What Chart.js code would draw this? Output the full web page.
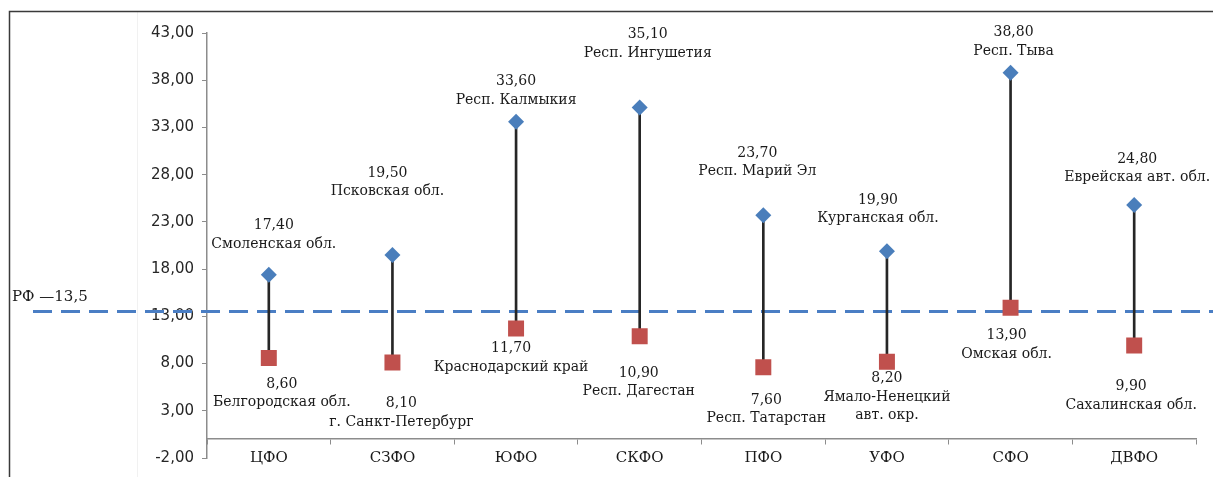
<!DOCTYPE html>
<html>
<head>
<meta charset="utf-8">
<script src="https://cdn.jsdelivr.net/npm/chart.js@4"></script>
<style>
html,body{margin:0;padding:0;background:#fff;}
#wrap{width:1213px;height:477px;position:relative;}
</style>
</head>
<body>
<div id="wrap"><canvas id="chart"></canvas></div>
<script>
const categories = ["ЦФО","СЗФО","ЮФО","СКФО","ПФО","УФО","СФО","ДВФО"];
const maxValues = [17.4,19.5,33.6,35.1,23.7,19.9,38.8,24.8];
const minValues = [8.6,8.1,11.7,10.9,7.6,8.2,13.9,9.9];
const maxRegions = ["Смоленская обл.","Псковская обл.","Респ. Калмыкия","Респ. Ингушетия","Респ. Марий Эл","Курганская обл.","Респ. Тыва","Еврейская авт. обл."];
const minRegions = ["Белгородская обл.","г. Санкт-Петербург","Краснодарский край","Респ. Дагестан","Респ. Татарстан","Ямало-Ненецкий\nавт. окр.","Омская обл.","Сахалинская обл."];
const rfValue = 13.5;
const rfLabel = "РФ —13,5";
const yMin = -2, yMax = 43, yStep = 5;

// label offsets (px) from marker centre: [dx, dy of the value line]
const maxOffsets = [[5,-49],[-5,-82],[0,-40],[8,-73],[-6,-62],[-9,-51],[3,-40],[3,-46]];
const minOffsets = [[13,26],[9,41],[-5,20],[-1,37],[3,33],[0,17],[-4,28],[-3,41]];

const fmt = v => v.toFixed(2).replace(".", ",");
const serif = "'DejaVu Serif', 'Liberation Serif', serif";

const extras = {
  id: "extras",
  beforeDraw(chart){
    const c = chart.ctx;
    c.save();
    c.strokeStyle = "#f1f1f1";
    c.lineWidth = 1;
    c.beginPath(); c.moveTo(137.5, 12); c.lineTo(137.5, 477); c.stroke();
    c.strokeStyle = "#3a3a3a";
    c.lineWidth = 1.5;
    c.beginPath();
    c.moveTo(9.5, 477); c.lineTo(9.5, 11.5); c.lineTo(1213, 11.5);
    c.stroke();
    c.restore();
  },
  beforeDatasetsDraw(chart){
    const c = chart.ctx;
    const y = chart.scales.y.getPixelForValue(rfValue);
    c.save();
    c.strokeStyle = "#4a7ec4";
    c.lineWidth = 3;
    c.setLineDash([19, 9]);
    c.beginPath(); c.moveTo(33, y); c.lineTo(1213, y); c.stroke();
    c.setLineDash([]);
    c.fillStyle = "#1a1a1a";
    c.font = "15px " + serif;
    c.textAlign = "left";
    c.textBaseline = "middle";
    c.fillText(rfLabel, 12, y - 15);
    c.restore();
  },
  afterDatasetsDraw(chart){
    const c = chart.ctx;
    const maxPts = chart.getDatasetMeta(1).data;
    const minPts = chart.getDatasetMeta(2).data;
    c.save();
    c.fillStyle = "#1a1a1a";
    c.font = "14px " + serif;
    c.textAlign = "center";
    c.textBaseline = "middle";
    const put = (pt, off, value, name) => {
      const x = pt.x + off[0];
      let y = pt.y + off[1];
      c.fillText(fmt(value), x, y);
      name.split("\n").forEach(line => { y += 18.5; c.fillText(line, x, y); });
    };
    categories.forEach((cat, i) => {
      put(maxPts[i], maxOffsets[i], maxValues[i], maxRegions[i]);
      put(minPts[i], minOffsets[i], minValues[i], minRegions[i]);
    });
    c.restore();
  }
};

new Chart(document.getElementById("chart"), {
  type: "bar",
  data: {
    labels: categories,
    datasets: [
      {
        type: "bar",
        data: categories.map((c, i) => [minValues[i], maxValues[i]]),
        backgroundColor: "#262626",
        barThickness: 2,
        order: 3
      },
      {
        type: "line",
        data: maxValues,
        showLine: false,
        pointStyle: "rectRot",
        pointRadius: 8,
        pointBorderWidth: 0,
        pointBackgroundColor: "#4a7ebb",
        borderColor: "#4a7ebb",
        order: 1
      },
      {
        type: "line",
        data: minValues,
        showLine: false,
        pointStyle: "rect",
        pointRadius: 11.3,
        pointBorderWidth: 0,
        pointBackgroundColor: "#c0504d",
        borderColor: "#c0504d",
        order: 2
      }
    ]
  },
  options: {
    responsive: true,
    maintainAspectRatio: false,
    animation: false,
    layout: {padding: {left: 0, right: 17, top: 33, bottom: 19}},
    plugins: {legend: {display: false}, tooltip: {enabled: false}},
    scales: {
      x: {
        position: {y: 0},
        offset: true,
        afterFit(s){ s.height = 0; },
        grid: {offset: true, drawOnChartArea: false, drawTicks: true, tickLength: 5, color: "#8c8c8c"},
        border: {display: true, color: "#8c8c8c", width: 1.5},
        ticks: {font: {family: serif, size: 15}, color: "#1a1a1a", padding: 5}
      },
      y: {
        min: yMin,
        max: yMax,
        afterFit(s){ s.width = 207; },
        grid: {drawOnChartArea: false, drawTicks: true, tickLength: 5, color: "#8c8c8c"},
        border: {display: true, color: "#8c8c8c", width: 1.5},
        ticks: {
          stepSize: yStep,
          padding: 8,
          color: "#262626",
          font: {family: "'DejaVu Sans', Verdana, sans-serif", size: 15},
          callback: v => fmt(v)
        }
      }
    }
  },
  plugins: [extras]
});
</script>
</body>
</html>
